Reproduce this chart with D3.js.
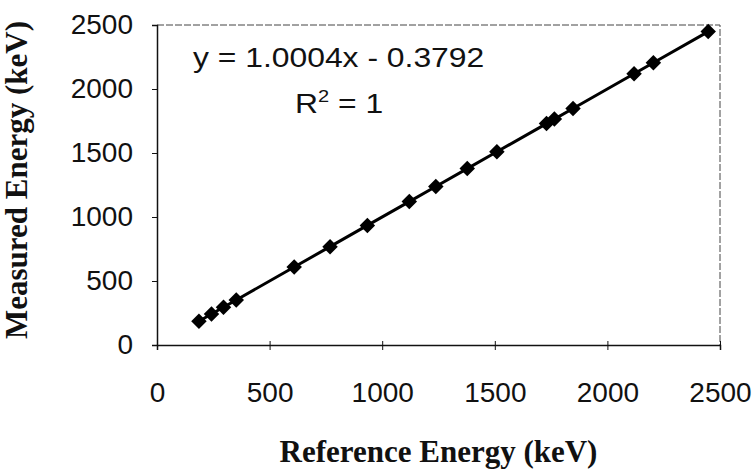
<!DOCTYPE html>
<html>
<head>
<meta charset="utf-8">
<script src="https://cdn.jsdelivr.net/npm/d3@7"></script>
<style>
  body { margin: 0; background: #fff; }
  svg { display: block; }
  .tick text { font-family: "Liberation Sans", Arial, sans-serif; font-size: 28px; fill: #111; }
  .title { font-family: "Liberation Serif", "Times New Roman", serif; font-weight: bold; fill: #111; }
  .eq { font-family: "Liberation Sans", Arial, sans-serif; font-size: 27px; fill: #111; }
</style>
</head>
<body>
<svg width="756" height="469"></svg>
<script>
"use strict";

// gamma lines (keV)
const referenceEnergy = [186.2, 241.9, 295.2, 351.9, 609.3, 768.4, 934.1, 1120.3, 1238.1,
                         1377.7, 1509.2, 1729.6, 1764.5, 1847.4, 2118.5, 2204.2, 2447.7];
const measuredEnergy  = [186.0, 241.8, 295.0, 351.7, 609.2, 768.3, 934.2, 1120.4, 1238.3,
                         1378.0, 1509.5, 1729.9, 1764.8, 1848.0, 2119.0, 2204.8, 2448.4];
const xTicks = [0, 500, 1000, 1500, 2000, 2500];
const yTicks = [0, 500, 1000, 1500, 2000, 2500];

const svg = d3.select('svg');

const plotLeft = 157, plotRight = 720, plotTop = 25, plotBottom = 345;

const x = d3.scaleLinear().domain([0, 2500]).range([plotLeft, plotRight]);
const y = d3.scaleLinear().domain([0, 2500]).range([plotBottom, plotTop]);

// plot area border (top + right), dashed like the scan
svg.append('path')
    .attr('d', `M${plotLeft},${plotTop}H${plotRight}V${plotBottom}`)
    .attr('fill', 'none')
    .attr('stroke', '#444')
    .attr('stroke-width', 1)
    .attr('stroke-dasharray', '7,2');

const xAxis = svg.append('g')
    .attr('transform', `translate(0, ${plotBottom})`)
    .call(d3.axisBottom(x).tickValues(xTicks).tickFormat(d3.format('d'))
        .tickSize(5).tickPadding(32));

const yAxis = svg.append('g')
    .attr('transform', `translate(${plotLeft}, 0)`)
    .call(d3.axisLeft(y).tickValues(yTicks).tickFormat(d3.format('d'))
        .tickSize(5).tickPadding(19));

[xAxis, yAxis].forEach(g => {
    g.attr('font-size', null).attr('font-family', null);
    g.select('.domain').attr('stroke', '#111').attr('stroke-width', 1.5);
    g.selectAll('.tick line').attr('stroke', '#111');
});
xAxis.selectAll('.tick line').attr('y1', -4);

const pts = referenceEnergy.map((r, i) => ({ r: r, m: measuredEnergy[i] }));

svg.append('path')
    .datum(pts)
    .attr('fill', 'none')
    .attr('stroke', '#000')
    .attr('stroke-width', 3)
    .attr('d', d3.line().x(d => x(d.r)).y(d => y(d.m)));

svg.append('g')
    .selectAll('path')
    .data(pts)
    .enter()
    .append('path')
    .attr('d', d3.symbol(d3.symbolSquare, 120))
    .attr('transform', d => `translate(${x(d.r)}, ${y(d.m)}) rotate(45)`)
    .attr('fill', '#000');

// trendline label
svg.append('text')
    .attr('class', 'eq')
    .attr('transform', 'translate(193, 67) scale(1.18, 1)')
    .text('y = 1.0004x - 0.3792');

const r2 = svg.append('text')
    .attr('class', 'eq')
    .attr('transform', 'translate(295, 113) scale(1.18, 1)');
r2.append('tspan').text('R');
r2.append('tspan').attr('font-size', 17).attr('dy', -11).text('2');
r2.append('tspan').attr('dy', 11).text(' = 1');

svg.append('text')
    .attr('class', 'title')
    .attr('font-size', 31)
    .attr('x', (plotLeft + plotRight) / 2)
    .attr('y', 462)
    .attr('text-anchor', 'middle')
    .text('Reference Energy (keV)');

svg.append('text')
    .attr('class', 'title')
    .attr('font-size', 31)
    .attr('transform', 'translate(27, 180) rotate(-90)')
    .attr('text-anchor', 'middle')
    .text('Measured Energy (keV)');
</script>
</body>
</html>
